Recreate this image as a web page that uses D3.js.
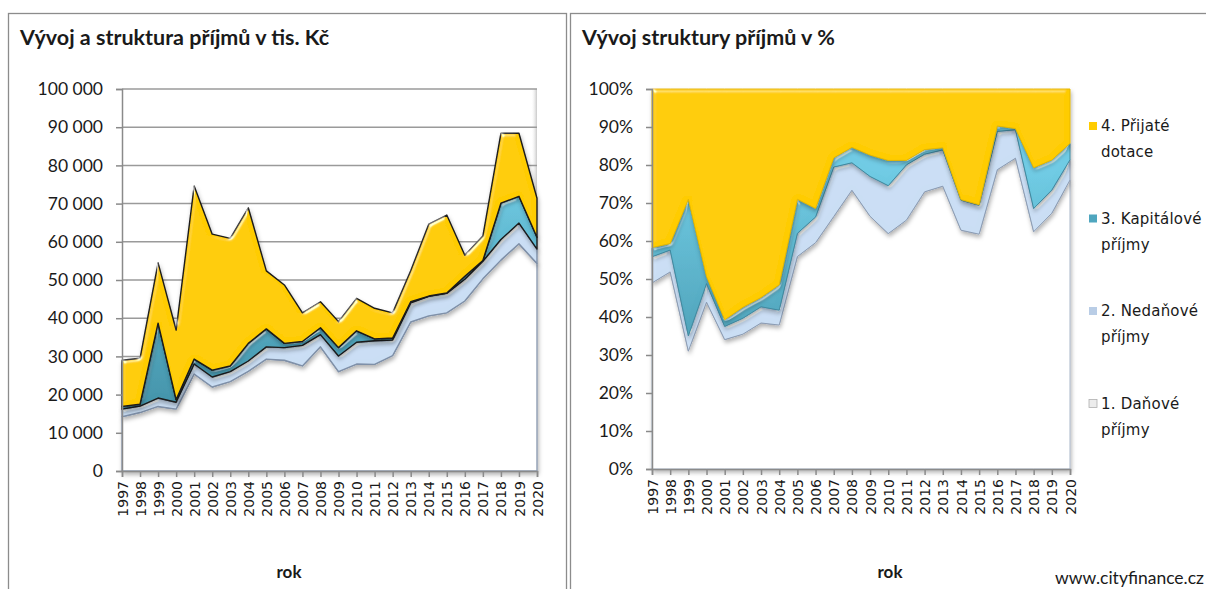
<!DOCTYPE html>
<html>
<head>
<meta charset="utf-8">
<script src="https://cdn.jsdelivr.net/npm/d3@7"></script>
<style>
  body { margin: 0; background: #fff; }
  text { fill: #1a1a1a; }
</style>
</head>
<body>
<div id="chart"></div>
<script>
// data (tis. Kč)
var years = ["1997","1998","1999","2000","2001","2002","2003","2004","2005","2006","2007","2008",
             "2009","2010","2011","2012","2013","2014","2015","2016","2017","2018","2019","2020"];
var danove     = [14200,15300,16900,16200,25400,22000,23400,26100,29300,29000,27500,32500,26000,28000,27900,30200,39000,40600,41400,44500,50300,55200,59500,54300];
var nedanove   = [2000,1700,2200,1800,2600,2600,2600,2700,3200,3300,5400,3200,4100,5700,6200,4100,5000,5100,5100,5700,4600,5400,5400,3800];
var kapitalove = [700,500,19600,700,1300,1800,1500,4600,4700,1100,1000,1800,2200,3000,500,500,300,100,100,800,200,9500,7000,3100];
var dotace     = [12100,12000,15800,18200,45300,35600,33400,35500,15200,15300,7500,6800,6800,8500,8000,6600,8100,18800,20400,5500,6400,18300,16500,10200];
var legendLines = [["4. Přijaté", "dotace"], ["3. Kapitálové", "příjmy"], ["2. Nedaňové", "příjmy"], ["1. Daňové", "příjmy"]];
var yTicksAbs = [0,10000,20000,30000,40000,50000,60000,70000,80000,90000,100000];
var yTicksPct = [0,0.1,0.2,0.3,0.4,0.5,0.6,0.7,0.8,0.9,1];

var keys = ["d","n","k","t"];
var rows = years.map(function(y, i) {
  return {year: y, d: danove[i], n: nedanove[i], k: kapitalove[i], t: dotace[i]};
});

var fills = ["#ffffff", "#cadef4", "url(#tealGrad)", "#ffcc00"];
var legendFill = ["#ffcc00", "#4fa6bf", "#b9cde6", "#ececec"];

var fmt = d3.formatLocale({decimal: ",", thousands: "\u00a0", grouping: [3], currency: ["", " Kč"]}).format(",d");

var svg = d3.select("#chart").append("svg")
  .attr("width", 1206).attr("height", 589);

var defs = svg.append("defs");
var tg = defs.append("linearGradient").attr("id", "tealGrad")
  .attr("gradientUnits", "userSpaceOnUse").attr("x1", 0).attr("x2", 0).attr("y1", 170).attr("y2", 420);
tg.append("stop").attr("offset", 0).attr("stop-color", "#6fcbe4");
tg.append("stop").attr("offset", 1).attr("stop-color", "#4090a6");

// bevel + shadow, roughly like the office 3D look
var f = defs.append("filter").attr("id", "bevel")
  .attr("x", "-5%").attr("y", "-5%").attr("width", "110%").attr("height", "115%");
f.append("feGaussianBlur").attr("in", "SourceAlpha").attr("stdDeviation", 2).attr("result", "blur");
f.append("feSpecularLighting").attr("in", "blur").attr("surfaceScale", 3)
  .attr("specularConstant", 0.7).attr("specularExponent", 40)
  .attr("lighting-color", "#ffffff").attr("result", "spec")
  .append("feDistantLight").attr("azimuth", 235).attr("elevation", 30);
f.append("feComposite").attr("in", "spec").attr("in2", "SourceAlpha").attr("operator", "in").attr("result", "specIn");
f.append("feComposite").attr("in", "SourceGraphic").attr("in2", "specIn").attr("operator", "arithmetic")
  .attr("k1", 0).attr("k2", 1).attr("k3", 1).attr("k4", 0).attr("result", "lit");
f.append("feOffset").attr("in", "SourceAlpha").attr("dx", 1).attr("dy", 3).attr("result", "off");
f.append("feGaussianBlur").attr("in", "off").attr("stdDeviation", 2).attr("result", "offBlur");
f.append("feFlood").attr("flood-color", "#000").attr("flood-opacity", 0.3).attr("result", "col");
f.append("feComposite").attr("in", "col").attr("in2", "offBlur").attr("operator", "in").attr("result", "shadow");
var m = f.append("feMerge");
m.append("feMergeNode").attr("in", "shadow");
m.append("feMergeNode").attr("in", "lit");

var sg = defs.append("linearGradient").attr("id", "edgeR").attr("x1", 0).attr("x2", 1).attr("y1", 0).attr("y2", 0);
sg.append("stop").attr("offset", 0).attr("stop-color", "#fff").attr("stop-opacity", 0);
sg.append("stop").attr("offset", 1).attr("stop-color", "#c8c8c8");
var sb = defs.append("linearGradient").attr("id", "edgeB").attr("x1", 0).attr("x2", 0).attr("y1", 0).attr("y2", 1);
sb.append("stop").attr("offset", 0).attr("stop-color", "#fff").attr("stop-opacity", 0);
sb.append("stop").attr("offset", 1).attr("stop-color", "#d0d0d0");

// panels
svg.append("rect").attr("x", 8.5).attr("y", 13.5).attr("width", 558).attr("height", 600)
  .attr("fill", "none").attr("stroke", "#8c8c8c").attr("stroke-width", 1.3);
svg.append("rect").attr("x", 570.5).attr("y", 13.5).attr("width", 660).attr("height", 600)
  .attr("fill", "none").attr("stroke", "#8c8c8c").attr("stroke-width", 1.3);

svg.append("text").attr("x", 20).attr("y", 45)
  .style("font", "bold 21.5px Lato, 'Open Sans', sans-serif")
  .text("Vývoj a struktura příjmů v tis. Kč");
svg.append("text").attr("x", 582).attr("y", 45)
  .style("font", "bold 21.5px Lato, 'Open Sans', sans-serif")
  .text("Vývoj struktury příjmů v %");

function drawChart(opt) {
  var g = svg.append("g");
  var x = d3.scalePoint().domain(years).range([opt.x0, opt.x1]);
  var y = d3.scaleLinear().domain(opt.domain).range([opt.y0, opt.yTop]);

  // plot area inner edge shading
  g.append("rect").attr("x", opt.x1 - 6).attr("y", opt.yTop).attr("width", 6).attr("height", opt.y0 - opt.yTop)
    .attr("fill", "url(#edgeR)");
  g.append("rect").attr("x", opt.x0).attr("y", opt.y0 - 6).attr("width", opt.x1 - opt.x0).attr("height", 6)
    .attr("fill", "url(#edgeB)");

  if (opt.grid) {
    g.selectAll(".grid").data(opt.ticks.filter(function(d) { return d > 0; })).enter()
      .append("line")
      .attr("x1", opt.x0).attr("x2", opt.x1)
      .attr("y1", function(d) { return y(d); }).attr("y2", function(d) { return y(d); })
      .attr("stroke", "#9a9a9a").attr("stroke-width", 1.5);
  }

  var stack = d3.stack().keys(keys);
  if (opt.expand) stack.offset(d3.stackOffsetExpand);
  var layers = stack(rows);

  var area = d3.area()
    .x(function(d) { return x(d.data.year); })
    .y0(function(d) { return y(d[0]); })
    .y1(function(d) { return y(d[1]); });

  g.selectAll(".layer").data(layers).enter()
    .append("path")
    .attr("class", "layer")
    .attr("d", area)
    .attr("fill", function(d, i) { return fills[i]; })
    .attr("stroke", function(d, i) { return opt.strokes[i]; })
    .attr("stroke-width", opt.strokeW)
    .attr("stroke-linejoin", "round")
    .attr("filter", "url(#bevel)");

  var ya = d3.axisLeft(y).tickValues(opt.ticks).tickSize(6).tickPadding(opt.pad).tickFormat(opt.fmt);
  var yg = g.append("g").attr("transform", "translate(" + opt.x0 + ",0)").call(ya);
  yg.select(".domain").attr("stroke", "#8a8a8a").attr("stroke-width", 1.5);
  yg.selectAll(".tick line").attr("stroke", "#8a8a8a").attr("stroke-width", 1.5);
  yg.selectAll("text").style("font", "17.5px Lato, 'Open Sans', sans-serif").attr("fill", "#1a1a1a");

  var xa = d3.axisBottom(x).tickSize(6).tickPadding(0);
  var xg = g.append("g").attr("transform", "translate(0," + opt.y0 + ")").call(xa);
  xg.select(".domain").attr("stroke", "#8a8a8a").attr("stroke-width", 1.5);
  xg.selectAll(".tick line").attr("stroke", "#8a8a8a").attr("stroke-width", 1.5);
  xg.selectAll("text")
    .attr("transform", "rotate(-90)")
    .attr("x", -10).attr("y", 0).attr("dy", "0.36em")
    .style("text-anchor", "end")
    .style("font", "14px 'DejaVu Sans', sans-serif")
    .attr("fill", "#1a1a1a");

  svg.append("text").attr("x", opt.rokX).attr("y", 578)
    .attr("text-anchor", "middle")
    .style("font", "bold 17px Lato, 'Open Sans', sans-serif")
    .text("rok");
  return g;
}

drawChart({
  x0: 122, x1: 537, y0: 471, yTop: 89, domain: [0, 100000], rokX: 289,
  ticks: yTicksAbs, fmt: fmt, pad: 13, grid: true, expand: false,
  strokes: ["#8f9db3", "#7f90a8", "#1a1a1a", "#1a1a1a"], strokeW: 1.4
});
drawChart({
  x0: 652, x1: 1070, y0: 469, yTop: 89, domain: [0, 1], rokX: 890,
  ticks: yTicksPct, fmt: d3.format(".0%"), pad: 13, grid: false, expand: true,
  strokes: ["#a9b6c8", "#8c9cb3", "#3f8aa0", "#e6b800"], strokeW: 1
});

// legend
var lg = svg.selectAll(".legend").data(legendLines).enter()
  .append("g").attr("class", "legend")
  .attr("transform", function(d, i) { return "translate(1089," + (126 + i * 92.5) + ")"; });
lg.append("rect").attr("x", 0).attr("y", -4).attr("width", 8).attr("height", 8)
  .attr("fill", function(d, i) { return legendFill[i]; })
  .attr("stroke", function(d, i) { return i === 3 ? "#b0b0b0" : "none"; })
  .attr("stroke-width", 0.8);
lg.append("text").attr("x", 12).attr("y", 0).attr("dy", "0.35em")
  .style("font", "15px 'DejaVu Sans', sans-serif").style("letter-spacing", "0.2px")
  .text(function(d) { return d[0]; });
lg.append("text").attr("x", 12).attr("y", 26).attr("dy", "0.35em")
  .style("font", "15px 'DejaVu Sans', sans-serif").style("letter-spacing", "0.2px")
  .text(function(d) { return d[1]; });

svg.append("text").attr("x", 1204).attr("y", 584).attr("text-anchor", "end")
  .style("font", "17.5px Lato, 'Open Sans', sans-serif")
  .text("www.cityfinance.cz");
</script>
</body>
</html>
